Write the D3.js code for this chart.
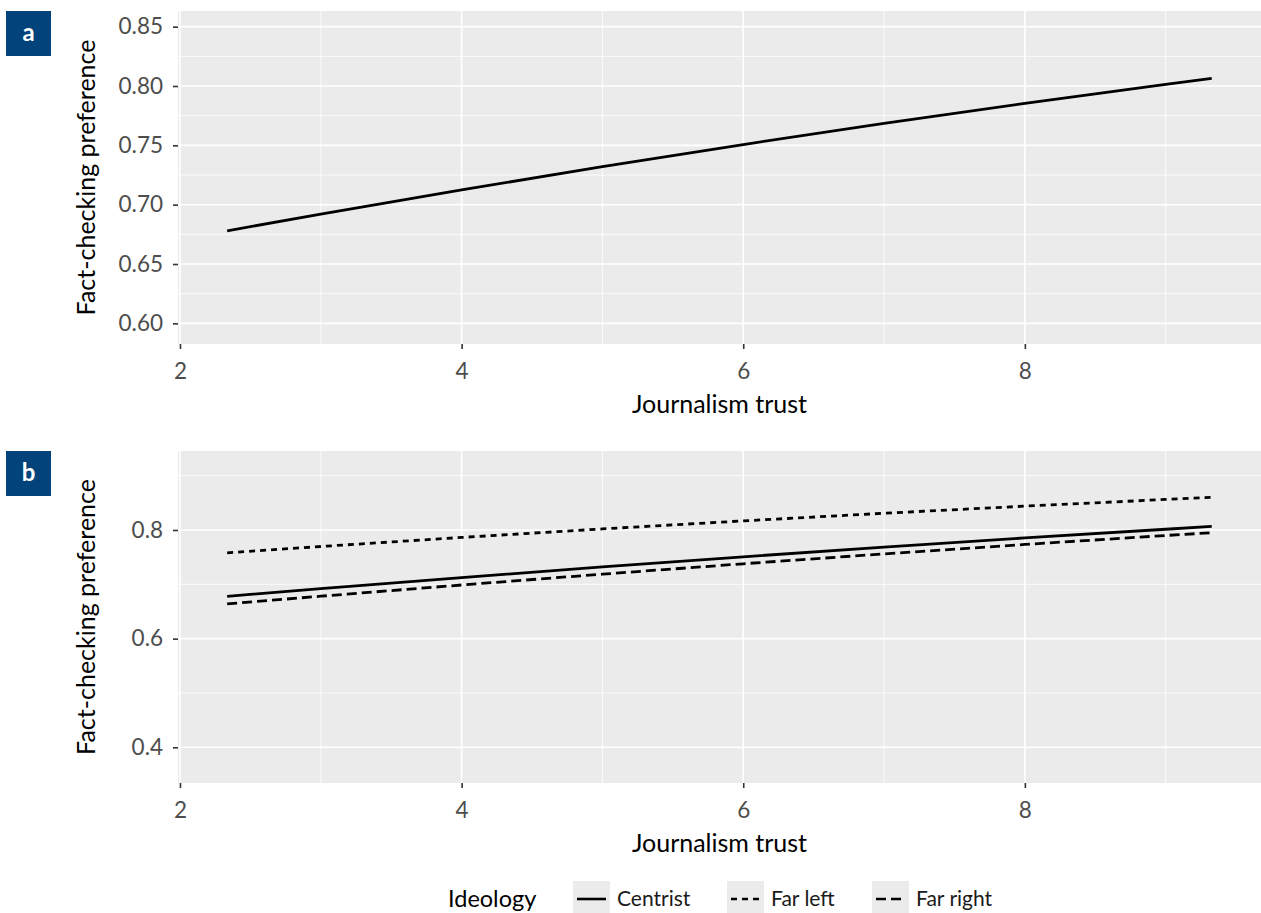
<!DOCTYPE html>
<html>
<head>
<meta charset="utf-8">
<script src="https://cdn.jsdelivr.net/npm/d3@7"></script>
<style>
  html, body { margin: 0; padding: 0; background: #fff; }
  svg { display: block; font-family: Lato, "Open Sans", sans-serif; }
</style>
</head>
<body>
<svg id="chart" width="1261" height="913"></svg>
<script>
// ---- Data ----
const trust = [2.335, 3, 4, 5, 6, 7, 8, 9, 9.327];          // journalism trust
const centristValues = [0.678, 0.692, 0.7125, 0.732, 0.7507, 0.7685, 0.7854, 0.8014, 0.8065];
const farLeftValues  = [0.758, 0.7696, 0.7863, 0.802, 0.8168, 0.8308, 0.8439, 0.8562, 0.860];
const farRightValues = [0.664, 0.6781, 0.6988, 0.7187, 0.7378, 0.756, 0.7734, 0.7899, 0.795];
const ideologies = ["Centrist", "Far left", "Far right"];
const xTicks = [2, 4, 6, 8];
const xMinorTicks = [3, 5, 7, 9];
const yTicksA = [0.60, 0.65, 0.70, 0.75, 0.80, 0.85];
const yMinorTicksA = [0.625, 0.675, 0.725, 0.775, 0.825];
const yTicksB = [0.4, 0.6, 0.8];
const yMinorTicksB = [0.5, 0.7, 0.9];
const panelLabels = ["a", "b"];
const xTitle = "Journalism trust";
const yTitle = "Fact-checking preference";
const legendTitle = "Ideology";

// ---- Layout / style ----
const svg = d3.select("#chart");
const left = 178, right = 1261;
const dashes = { "Centrist": null, "Far left": "6,5", "Far right": "10,5" };
const seriesB = [
  { name: "Centrist", values: centristValues },
  { name: "Far left", values: farLeftValues },
  { name: "Far right", values: farRightValues }
];

const x = d3.scaleLinear().domain([1.986, 9.677]).range([left, right]);

function drawPanel(cfg) {
  const y = d3.scaleLinear().domain(cfg.yDomain).range([cfg.bottom, cfg.top]);
  const g = svg.append("g");
  g.append("rect").attr("x", left).attr("y", cfg.top)
    .attr("width", right - left).attr("height", cfg.bottom - cfg.top)
    .attr("fill", "#ebebeb");
  g.selectAll(".ymin").data(cfg.yMinor).enter().append("line")
    .attr("x1", left).attr("x2", right)
    .attr("y1", d => y(d)).attr("y2", d => y(d))
    .attr("stroke", "#fff").attr("stroke-width", 0.8);
  g.selectAll(".xmin").data(xMinorTicks).enter().append("line")
    .attr("y1", cfg.top).attr("y2", cfg.bottom)
    .attr("x1", d => x(d)).attr("x2", d => x(d))
    .attr("stroke", "#fff").attr("stroke-width", 0.8);
  g.selectAll(".ymaj").data(cfg.yTicks).enter().append("line")
    .attr("x1", left).attr("x2", right)
    .attr("y1", d => y(d)).attr("y2", d => y(d))
    .attr("stroke", "#fff").attr("stroke-width", 1.6);
  g.selectAll(".xmaj").data(xTicks).enter().append("line")
    .attr("y1", cfg.top).attr("y2", cfg.bottom)
    .attr("x1", d => x(d)).attr("x2", d => x(d))
    .attr("stroke", "#fff").attr("stroke-width", 1.6);

  const line = d3.line().x(d => x(d[0])).y(d => y(d[1]));
  cfg.series.forEach(s => {
    g.append("path")
      .datum(trust.map((t, i) => [t, s.values[i]]))
      .attr("d", line)
      .attr("fill", "none")
      .attr("stroke", "#000")
      .attr("stroke-width", 2.8)
      .attr("stroke-dasharray", dashes[s.name]);
  });

  const yAxis = g.append("g").attr("transform", `translate(${left},0)`)
    .call(d3.axisLeft(y).tickValues(cfg.yTicks).tickSize(5).tickPadding(10).tickFormat(cfg.fmt));
  const xAxis = g.append("g").attr("transform", `translate(0,${cfg.bottom})`)
    .call(d3.axisBottom(x).tickValues(xTicks).tickSize(5).tickPadding(14).tickFormat(d3.format("d")));
  [yAxis, xAxis].forEach(a => {
    a.select(".domain").remove();
    a.selectAll(".tick line").attr("stroke", "#333").attr("stroke-width", 1.6);
    a.selectAll(".tick text").attr("fill", "#4d4d4d")
      .style("font-size", "22.5px").style("font-family", "Lato, sans-serif");
  });

  g.append("text").attr("x", (left + right) / 2).attr("y", cfg.bottom + 69)
    .attr("text-anchor", "middle").attr("fill", "#000")
    .style("font-size", "25px").text(xTitle);
  g.append("text")
    .attr("transform", `translate(95,${(cfg.top + cfg.bottom) / 2}) rotate(-90)`)
    .attr("text-anchor", "middle").attr("fill", "#000")
    .style("font-size", "25px").text(yTitle);

  g.append("rect").attr("x", 6).attr("y", cfg.top).attr("width", 45).attr("height", 45)
    .attr("fill", "#02437b");
  g.append("text").attr("x", 28.5).attr("y", cfg.top + 22.5).attr("dy", "0.33em")
    .attr("text-anchor", "middle").attr("fill", "#fff")
    .style("font-size", "24px").style("font-weight", "bold").text(cfg.label);
}

drawPanel({
  top: 11, bottom: 344, yDomain: [0.5826, 0.8632],
  yTicks: yTicksA, yMinor: yMinorTicksA, fmt: d3.format(".2f"),
  series: [{ name: "Centrist", values: centristValues }], label: panelLabels[0]
});
drawPanel({
  top: 451, bottom: 783, yDomain: [0.3343, 0.9454],
  yTicks: yTicksB, yMinor: yMinorTicksB, fmt: d3.format(".1f"),
  series: seriesB, label: panelLabels[1]
});

// ---- Legend ----
const legY = 899;
const lg = svg.append("g");
lg.append("text").attr("x", 448).attr("y", legY).attr("dy", "0.35em")
  .attr("fill", "#000").style("font-size", "23.5px").text(legendTitle);
const keyX = [573, 727, 872];
ideologies.forEach((name, i) => {
  const kx = keyX[i];
  lg.append("rect").attr("x", kx).attr("y", legY - 18).attr("width", 37).attr("height", 36)
    .attr("fill", "#ebebeb");
  lg.append("line").attr("x1", kx + 4).attr("x2", kx + 33)
    .attr("y1", legY).attr("y2", legY)
    .attr("stroke", "#000").attr("stroke-width", 2.6)
    .attr("stroke-dasharray", dashes[name]);
  lg.append("text").attr("x", kx + 44).attr("y", legY).attr("dy", "0.35em")
    .attr("fill", "#1a1a1a").style("font-size", "21px").text(name);
});
</script>
</body>
</html>
